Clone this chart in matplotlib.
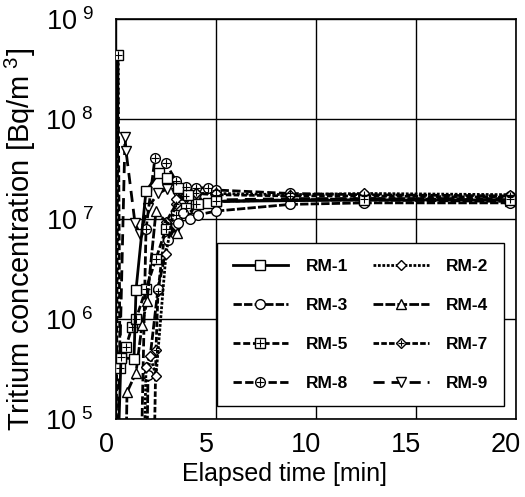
import numpy as np
import matplotlib
matplotlib.use('Agg')
import matplotlib.pyplot as plt
import matplotlib.transforms as mtransforms
from matplotlib.ticker import FixedLocator, FuncFormatter

plt.rcParams['font.family'] = ['Liberation Sans', 'DejaVu Sans']
plt.rcParams['mathtext.fontset'] = 'custom'
plt.rcParams['mathtext.rm'] = 'Liberation Sans'

# values (time in min, concentration in Bq/m3)
# values below 1e5 are off-scale points that run to the bottom of the chart
t_rm1 = [0.0, 0.25, 0.9, 1.0, 1.5, 2.15, 2.55, 3.1, 3.6, 4.1, 4.6, 5.0, 12.4, 19.7]
c_rm1 = [1e4, 4.1e5, 4.0e5, 1.95e6, 1.9e7, 2.9e7, 2.6e7, 2.05e7, 1.75e7, 1.4e7, 1.45e7, 1.5e7, 1.55e7, 1.55e7]

t_rm2 = [1.35, 1.5, 1.7, 2.0, 2.5, 3.0, 3.5, 4.0, 5.0, 8.7, 12.4, 19.7]
c_rm2 = [1e4, 3.3e5, 4.3e5, 2.7e5, 4.5e6, 1.6e7, 1.75e7, 1.8e7, 1.8e7, 1.75e7, 1.8e7, 1.75e7]

t_rm3 = [1.5, 1.6, 2.1, 2.6, 3.1, 3.35, 3.7, 4.1, 5.0, 8.7, 12.4, 19.7]
c_rm3 = [1e4, 2.75e5, 2.0e6, 6.2e6, 9.1e6, 1.15e7, 1.0e7, 1.1e7, 1.2e7, 1.4e7, 1.45e7, 1.45e7]

t_rm4 = [0.45, 0.55, 1.0, 1.3, 1.55, 2.0, 3.05, 3.5, 4.0, 5.0, 8.7, 12.4, 19.7]
c_rm4 = [1e4, 1.85e5, 2.9e5, 8.7e5, 1.5e6, 1.2e7, 7.2e6, 1.1e7, 1.3e7, 1.5e7, 1.55e7, 1.55e7, 1.5e7]

t_rm5 = [0.0, 0.1, 0.2, 0.25, 0.5, 0.8, 1.0, 1.5, 2.0, 2.5, 3.0, 3.5, 4.0, 5.0, 12.4, 19.7]
c_rm5 = [1e4, 4.4e8, 3.2e5, 4.2e5, 5.3e5, 8.3e5, 1.0e6, 2.0e6, 4.0e6, 8.0e6, 1.1e7, 1.3e7, 1.4e7, 1.5e7, 1.6e7, 1.6e7]

t_rm7 = [1.85, 2.0, 2.1, 2.5, 3.0, 3.5, 4.0, 5.0, 8.7, 12.4, 19.7]
c_rm7 = [1e4, 4.9e5, 1.9e6, 9.3e6, 1.4e7, 1.7e7, 1.8e7, 1.75e7, 1.7e7, 1.7e7, 1.65e7]

t_rm8 = [1.2, 1.5, 1.95, 2.5, 3.0, 3.5, 4.0, 4.6, 5.0, 8.7, 12.4, 19.7]
c_rm8 = [1e4, 7.9e6, 4.1e7, 3.6e7, 2.4e7, 2.1e7, 2.05e7, 2.05e7, 1.95e7, 1.8e7, 1.75e7, 1.7e7]

t_rm9 = [0.0, 0.45, 0.5, 0.95, 1.2, 1.6, 2.1, 2.55, 3.0, 3.5, 4.0, 5.0, 8.7, 12.4, 19.7]
c_rm9 = [1e4, 6.6e7, 4.8e7, 9.1e6, 7.0e6, 1.3e7, 1.8e7, 2.0e7, 1.8e7, 1.6e7, 1.6e7, 1.55e7, 1.6e7, 1.6e7, 1.55e7]

names = ['RM-1', 'RM-2', 'RM-3', 'RM-4', 'RM-5', 'RM-7', 'RM-8', 'RM-9']
x_ticks = [0, 5, 10, 15, 20]
y_ticks = [1e5, 1e6, 1e7, 1e8, 1e9]

series = {
    'RM-1': (t_rm1, c_rm1, 's', False, '-'),
    'RM-2': (t_rm2, c_rm2, 'D', False, (0, (1, 0.6))),
    'RM-3': (t_rm3, c_rm3, 'o', False, (0, (3, 0.8))),
    'RM-4': (t_rm4, c_rm4, '^', False, (0, (3.5, 0.8))),
    'RM-5': (t_rm5, c_rm5, 's', True, (0, (2.5, 1.0))),
    'RM-7': (t_rm7, c_rm7, 'D', True, (0, (2.0, 0.8))),
    'RM-8': (t_rm8, c_rm8, 'o', True, (0, (3.0, 1.2))),
    'RM-9': (t_rm9, c_rm9, 'v', False, (0, (4.0, 2.5))),
}
msize = {'s': 7, 'D': 5.5, 'o': 7, '^': 7.5, 'v': 7.5}

fig = plt.figure(figsize=(5.25, 4.97), dpi=100)
ax = fig.add_axes([116 / 525, 78 / 497, 400 / 525, 400 / 497])
ax.set_yscale('log', nonpositive='clip')

handles = {}
for name in names[::-1]:
    t, c, mk, plus, ls = series[name]
    ms = msize[mk]
    line, = ax.plot(t, c, color='black', linestyle=ls, linewidth=2.0,
                    marker=mk, markersize=ms, markerfacecolor='white',
                    markeredgecolor='black', markeredgewidth=1.0, zorder=3)
    if plus:
        pl, = ax.plot(t, c, linestyle='none', marker='+', markersize=ms * 0.9,
                      color='black', markeredgewidth=0.8, zorder=4)
        handles[name] = (line, pl)
    else:
        handles[name] = line

ax.set_xlim(0, 20)
ax.set_ylim(1e5, 1e9)
ax.xaxis.set_major_locator(FixedLocator(x_ticks))
ax.yaxis.set_major_locator(FixedLocator(y_ticks))
ax.yaxis.set_minor_locator(FixedLocator([]))
ax.yaxis.set_major_formatter(FuncFormatter(
    lambda v, p: r'$\mathregular{10^{\ %d}}$' % round(np.log10(v))))
ax.grid(True, color='black', linewidth=1.0)
ax.set_axisbelow(True)
for s in ax.spines.values():
    s.set_linewidth(1.2)
ax.tick_params(axis='both', length=0, labelsize=19.5)
ax.tick_params(axis='x', pad=9.5)
ax.tick_params(axis='y', pad=16)

# x tick labels sit a little left of their grid lines in the original
shift = mtransforms.ScaledTranslation(-0.10, 0, fig.dpi_scale_trans)
for lbl in ax.get_xticklabels():
    lbl.set_transform(lbl.get_transform() + shift)

ax.set_xlabel('Elapsed time [min]', fontsize=18)
ax.xaxis.set_label_coords(0.4225, -0.107)
ax.set_ylabel(r'Tritium concentration [Bq/m$^{\mathregular{\ 3}}$]', fontsize=21)
ax.yaxis.set_label_coords(-0.195, 0.45)

order = ['RM-1', 'RM-3', 'RM-5', 'RM-8', 'RM-2', 'RM-4', 'RM-7', 'RM-9']
leg = ax.legend([handles[n] for n in order], order, ncol=2, loc='upper left',
                bbox_to_anchor=(0.2525, 0.44),
                fancybox=False, framealpha=1, edgecolor='black', numpoints=1,
                handlelength=3.2, handletextpad=1.0, columnspacing=1.45,
                labelspacing=1.37, borderpad=0.9, borderaxespad=0,
                prop={'size': 12.5, 'weight': 'bold'})
leg.get_frame().set_linewidth(1.0)

fig.savefig('out.png', dpi=100)
